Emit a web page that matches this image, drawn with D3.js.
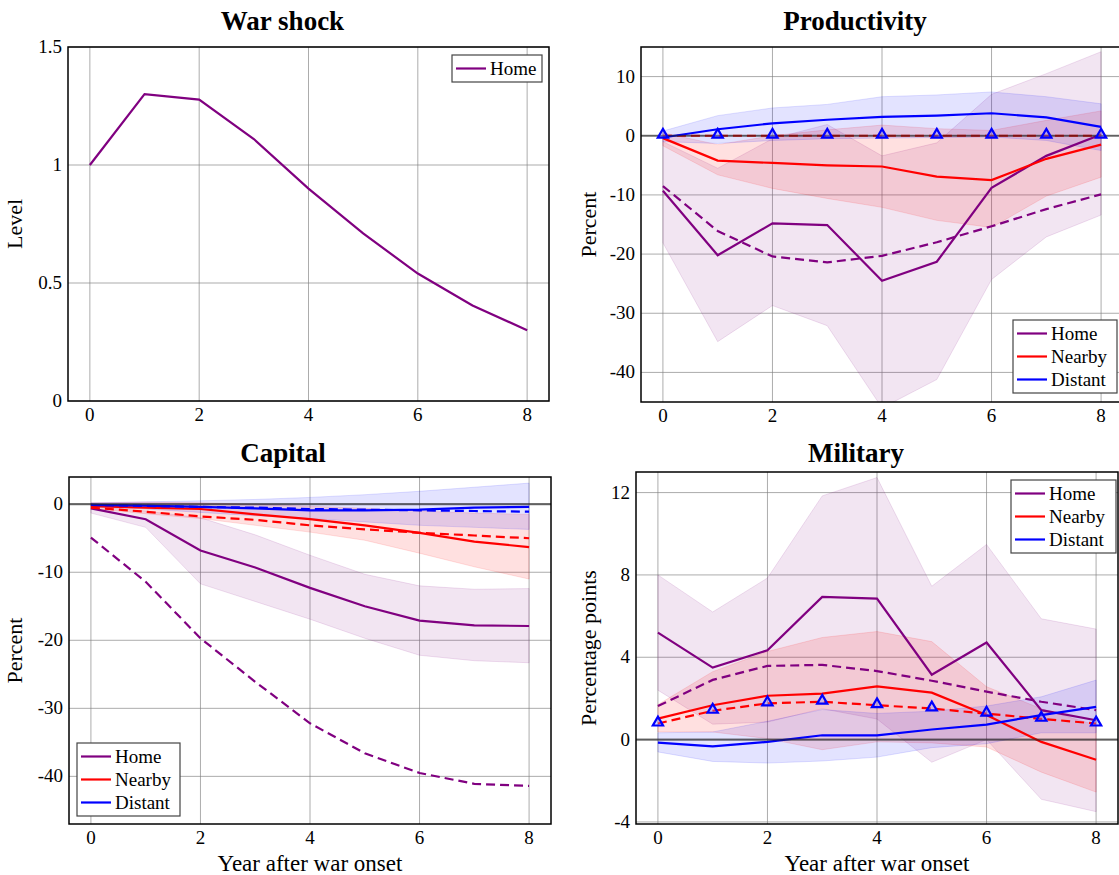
<!DOCTYPE html>
<html><head><meta charset="utf-8">
<script src="https://cdn.jsdelivr.net/npm/d3@7"></script>
<style>
body{margin:0;background:#fff;}
svg{display:block;}
</style></head>
<body>
<script>
// ---------- DATA ----------
const years = [0,1,2,3,4,5,6,7,8];
const xTicks = [0,2,4,6,8];

// War shock
const warHome = [1.0, 1.30, 1.277, 1.11, 0.90, 0.71, 0.54, 0.405, 0.30];
const warTicks = [0, 0.5, 1, 1.5];

// Productivity
const prodHome     = [-9.3, -20.2, -14.8, -15.1, -24.5, -21.3, -8.8, -3.4, 0.2];
const prodHomeLo   = [-18.1, -34.8, -28.7, -32.1, -46.0, -41.2, -24.3, -17.1, -13.4];
const prodHomeHi   = [-1.0, -5.5, -0.5, 1.9, -3.4, -1.2, 7.0, 10.5, 14.2];
const prodHomeDash = [-8.5, -16.1, -20.4, -21.4, -20.3, -18.0, -15.3, -12.4, -9.9];
const prodNear     = [-0.4, -4.2, -4.6, -5.0, -5.2, -6.9, -7.5, -3.9, -1.5];
const prodNearLo   = [-1.7, -6.6, -8.9, -10.6, -12.1, -14.3, -15.5, -10.2, -7.0];
const prodNearHi   = [0.5, -1.5, 0.0, 1.0, 1.8, 1.2, 0.9, 2.6, 4.2];
const prodNearDash = [0, 0, 0, 0, 0, 0, 0, 0, 0];
const prodDist     = [-0.3, 1.1, 2.1, 2.7, 3.2, 3.4, 3.8, 3.1, 1.5];
const prodDistLo   = [-1.0, -1.3, -0.8, -0.5, -0.4, -0.3, -0.2, -0.8, -2.5];
const prodDistHi   = [0.8, 3.4, 4.7, 5.3, 6.6, 6.9, 7.4, 6.6, 5.4];
const prodDistMark = [0, 0, 0, 0, 0, 0, 0, 0, 0];
const prodTicks = [-40, -30, -20, -10, 0, 10];

// Capital
const capHome     = [-0.6, -2.2, -6.8, -9.3, -12.3, -15.0, -17.1, -17.8, -17.9];
const capHomeLo   = [-1.3, -3.4, -11.7, -14.3, -16.9, -19.7, -22.2, -23.0, -23.3];
const capHomeHi   = [-0.3, -1.0, -2.0, -4.5, -7.5, -10.3, -12.0, -12.5, -12.4];
const capHomeDash = [-4.9, -11.4, -19.7, -26.1, -32.2, -36.6, -39.5, -41.1, -41.4];
const capNear     = [-0.3, -0.5, -0.7, -1.5, -2.2, -3.1, -4.2, -5.5, -6.3];
const capNearLo   = [-0.6, -1.4, -2.1, -3.1, -4.1, -5.3, -7.2, -9.2, -11.0];
const capNearHi   = [0.2, 0.3, 0.2, 0.0, -0.3, -0.6, -1.0, -1.3, -1.5];
const capNearDash = [-0.5, -1.1, -1.8, -2.3, -3.1, -3.7, -4.2, -4.6, -5.0];
const capDist     = [-0.1, -0.2, -0.4, -0.6, -0.9, -0.9, -0.8, -0.5, -0.4];
const capDistLo   = [-0.3, -0.7, -1.2, -1.7, -2.1, -2.6, -3.1, -3.4, -3.7];
const capDistHi   = [0.2, 0.35, 0.5, 0.7, 1.0, 1.4, 1.9, 2.5, 3.1];
const capDistDash = [-0.1, -0.25, -0.4, -0.5, -0.7, -0.8, -0.9, -1.0, -1.1];
const capTicks = [-40, -30, -20, -10, 0];

// Military
const milHome     = [5.2, 3.5, 4.34, 6.93, 6.85, 3.15, 4.72, 1.43, 0.94];
const milHomeLo   = [2.4, 0.75, 0.85, 1.5, 1.0, -1.1, 0.0, -2.9, -3.5];
const milHomeHi   = [8.0, 6.2, 7.85, 11.84, 12.73, 7.45, 9.48, 5.87, 5.37];
const milHomeDash = [1.63, 2.9, 3.58, 3.63, 3.33, 2.86, 2.33, 1.84, 1.43];
const milNear     = [1.02, 1.67, 2.13, 2.23, 2.59, 2.28, 1.19, -0.11, -0.98];
const milNearLo   = [0.37, 0.37, 0.05, -0.49, -0.11, -0.16, -0.36, -1.58, -2.55];
const milNearHi   = [1.7, 3.3, 4.28, 4.96, 5.25, 4.76, 2.57, 1.5, 0.7];
const milNearDash = [0.78, 1.4, 1.76, 1.84, 1.67, 1.51, 1.26, 1.01, 0.78];
const milDist     = [-0.15, -0.33, -0.11, 0.21, 0.21, 0.49, 0.73, 1.19, 1.59];
const milDistLo   = [-0.6, -1.06, -1.14, -1.04, -0.85, -0.39, -0.2, 0.33, 0.33];
const milDistHi   = [0.33, 0.37, 0.89, 1.46, 1.27, 1.38, 1.63, 2.08, 2.89];
const milDistMark = [0.78, 1.4, 1.76, 1.84, 1.67, 1.51, 1.26, 1.01, 0.78];
const milTicks = [-4, 0, 4, 8, 12];

const seriesNames = ["Home", "Nearby", "Distant"];
const colors = {Home:"#800080", Nearby:"#ff0000", Distant:"#0000ff"};

// ---------- DRAW ----------
const FONT = "'Liberation Serif', 'DejaVu Serif', serif";
const svg = d3.select("body").append("svg").attr("width",1119).attr("height",875)
  .attr("font-family", FONT);

function fmt(v){ return String(v).replace("\u2212","-"); }

function panel(cfg){
  const {box, ydom, yticks, title, ylabel, xlabel} = cfg;
  const x = d3.scaleLinear().domain([-0.4, 8.4]).range([box.l, box.r]);
  const y = d3.scaleLinear().domain(ydom).range([box.b, box.t]);
  const g = svg.append("g");
  const cid = "clip" + cfg.id;
  svg.append("defs").append("clipPath").attr("id", cid)
    .append("rect").attr("x", box.l).attr("y", box.t).attr("width", box.r-box.l).attr("height", box.b-box.t);

  // grid
  const grid = g.append("g");
  grid.selectAll("line.gx").data(xTicks).join("line")
    .attr("x1", d=>x(d)).attr("x2", d=>x(d)).attr("y1", box.t).attr("y2", box.b)
    .attr("stroke", "#808080").attr("stroke-opacity", 0.65).attr("stroke-width", 1);
  grid.selectAll("line.gy").data(yticks).join("line")
    .attr("y1", d=>y(d)).attr("y2", d=>y(d)).attr("x1", box.l).attr("x2", box.r)
    .attr("stroke", "#808080").attr("stroke-opacity", 0.65).attr("stroke-width", 1);

  const plot = g.append("g").attr("clip-path", `url(#${cid})`);
  const area = d3.area().x((d,i)=>x(years[i])).y0(d=>y(d[0])).y1(d=>y(d[1]));
  const line = d3.line().x((d,i)=>x(years[i])).y(d=>y(d));

  (cfg.bands||[]).forEach(b=>{
    const data = b.lo.map((v,i)=>[v, b.hi[i]]);
    plot.append("path").attr("d", area(data))
      .attr("fill", colors[b.s]).attr("fill-opacity", b.op || 0.11)
      .attr("stroke", colors[b.s]).attr("stroke-opacity", 0.12).attr("stroke-width", 1);
  });
  (cfg.lines||[]).forEach(l=>{
    plot.append("path").attr("d", line(l.v)).attr("fill","none")
      .attr("stroke", colors[l.s]).attr("stroke-width", 2.2)
      .attr("stroke-dasharray", l.dash ? "9,5" : null);
  });
  if (cfg.zero) {
    plot.append("line").attr("x1", box.l).attr("x2", box.r).attr("y1", y(0)).attr("y2", y(0))
      .attr("stroke", "#222").attr("stroke-opacity", 0.6).attr("stroke-width", 2.2);
  }
  (cfg.marks||[]).forEach(m=>{
    const sym = d3.symbol().type(d3.symbolTriangle).size(45);
    plot.selectAll(null).data(m.v).join("path")
      .attr("d", sym())
      .attr("transform", (d,i)=>`translate(${x(years[i])},${y(d)-1})`)
      .attr("fill", "#9090ff").attr("fill-opacity", 0.35)
      .attr("stroke", colors[m.s]).attr("stroke-width", 2.2);
  });

  // frame
  g.append("rect").attr("x", box.l).attr("y", box.t).attr("width", box.r-box.l).attr("height", box.b-box.t)
    .attr("fill","none").attr("stroke","#000").attr("stroke-width",1.5);

  // ticks labels
  g.selectAll("text.xt").data(xTicks).join("text")
    .attr("x", d=>x(d)).attr("y", box.b+20).attr("text-anchor","middle")
    .attr("font-size", 19).text(d=>fmt(d));
  g.selectAll("text.yt").data(yticks).join("text")
    .attr("x", box.l-6).attr("y", d=>y(d)+6).attr("text-anchor","end")
    .attr("font-size", 19).text(d=>fmt(d));

  // title
  g.append("text").attr("x", (box.l+box.r)/2 + (cfg.titleDx||0)).attr("y", cfg.titleY)
    .attr("text-anchor","middle").attr("font-size", 27).attr("font-weight","bold").text(title);
  // y label
  g.append("text").attr("transform", `translate(${cfg.ylabX},${(box.t+box.b)/2}) rotate(-90)`)
    .attr("text-anchor","middle").attr("font-size", 22).text(ylabel);
  if (xlabel) {
    g.append("text").attr("x", (box.l+box.r)/2).attr("y", box.b+47)
      .attr("text-anchor","middle").attr("font-size", 23).text(xlabel);
  }

  // legend
  if (cfg.legend) {
    const L = cfg.legend;
    const lg = g.append("g");
    const rowH = 23;
    const h = L.names.length*rowH + 4;
    lg.append("rect").attr("x", L.x).attr("y", L.y).attr("width", L.w).attr("height", h)
      .attr("fill","#fff").attr("stroke","#444").attr("stroke-width",1.2);
    L.names.forEach((n,i)=>{
      const cy = L.y + 2 + rowH*i + rowH/2;
      lg.append("line").attr("x1", L.x+4).attr("x2", L.x+34).attr("y1", cy).attr("y2", cy)
        .attr("stroke", colors[n]).attr("stroke-width", 2.2);
      lg.append("text").attr("x", L.x+38).attr("y", cy+6).attr("font-size", 19).text(n);
    });
  }
}

panel({id:1, box:{l:68,t:47,r:549,b:401}, ydom:[0,1.5], yticks:warTicks,
  title:"War shock", titleY:30, titleDx:-26, ylabel:"Level", ylabX:22,
  lines:[{s:"Home", v:warHome}],
  legend:{x:452, y:55, w:90, names:["Home"]}});

panel({id:2, box:{l:641,t:47,r:1123,b:402}, ydom:[-45,15], yticks:prodTicks,
  title:"Productivity", titleY:30, titleDx:-27, ylabel:"Percent", ylabX:596, zero:true,
  bands:[{s:"Home", lo:prodHomeLo, hi:prodHomeHi, op:0.1},
         {s:"Nearby", lo:prodNearLo, hi:prodNearHi, op:0.12},
         {s:"Distant", lo:prodDistLo, hi:prodDistHi, op:0.11}],
  lines:[{s:"Home", v:prodHome},{s:"Home", v:prodHomeDash, dash:true},
         {s:"Nearby", v:prodNear},{s:"Nearby", v:prodNearDash, dash:true},
         {s:"Distant", v:prodDist}],
  marks:[{s:"Distant", v:prodDistMark}],
  legend:{x:1013, y:320, w:104, names:seriesNames}});

panel({id:3, box:{l:69,t:477,r:551,b:824}, ydom:[-47,4], yticks:capTicks,
  title:"Capital", titleY:462, titleDx:-27, ylabel:"Percent", ylabX:22, zero:true,
  xlabel:"Year after war onset",
  bands:[{s:"Home", lo:capHomeLo, hi:capHomeHi, op:0.1},
         {s:"Nearby", lo:capNearLo, hi:capNearHi, op:0.12},
         {s:"Distant", lo:capDistLo, hi:capDistHi, op:0.11}],
  lines:[{s:"Home", v:capHome},{s:"Home", v:capHomeDash, dash:true},
         {s:"Nearby", v:capNear},{s:"Nearby", v:capNearDash, dash:true},
         {s:"Distant", v:capDist},{s:"Distant", v:capDistDash, dash:true}],
  legend:{x:77, y:743, w:103, names:seriesNames}});

panel({id:4, box:{l:636,t:472,r:1118,b:824}, ydom:[-4.1,13], yticks:milTicks,
  title:"Military", titleY:462, titleDx:-21, ylabel:"Percentage points", ylabX:596, zero:true,
  xlabel:"Year after war onset",
  bands:[{s:"Home", lo:milHomeLo, hi:milHomeHi, op:0.1},
         {s:"Nearby", lo:milNearLo, hi:milNearHi, op:0.12},
         {s:"Distant", lo:milDistLo, hi:milDistHi, op:0.11}],
  lines:[{s:"Home", v:milHome},{s:"Home", v:milHomeDash, dash:true},
         {s:"Nearby", v:milNear},{s:"Nearby", v:milNearDash, dash:true},
         {s:"Distant", v:milDist}],
  marks:[{s:"Distant", v:milDistMark}],
  legend:{x:1011, y:480, w:105, names:seriesNames}});
</script>
</body></html>
